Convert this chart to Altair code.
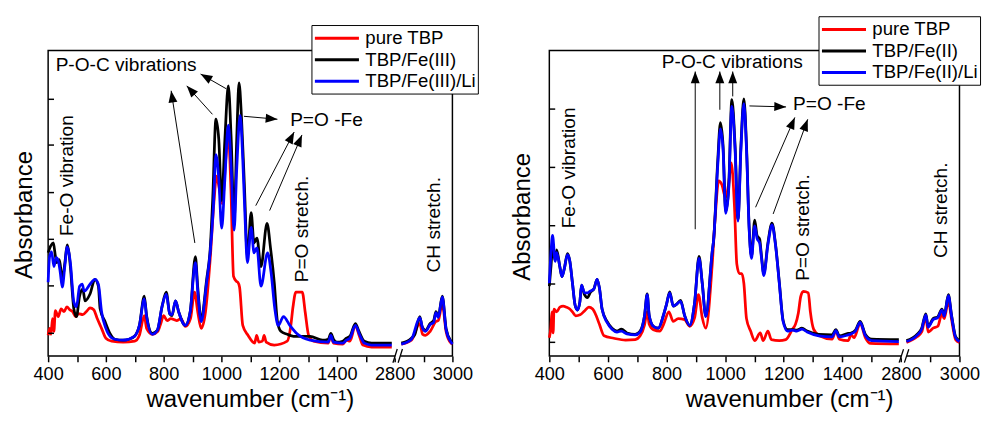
import math
import altair as alt
import pandas as pd

FONT = "Liberation Sans"

# ---------------- left panel: Fe(III) ----------------
L_NAMES = ["pure TBP", "TBP/Fe(III)", "TBP/Fe(III)/Li"]

L_RED_WN = [400, 405, 410, 415, 420, 425, 435, 445, 455, 465, 475, 485, 495, 505, 520, 535, 545, 558, 570, 585,
            600, 620, 660, 700, 716, 733, 741, 761, 780, 790, 800, 812, 825, 845, 860, 875, 893, 907, 918, 930,
            945, 961, 975, 983, 993, 1003, 1015, 1024, 1033, 1042, 1052, 1057, 1063, 1074, 1092, 1115, 1122, 1130,
            1142, 1148, 1155, 1183, 1228, 1240, 1248, 1258, 1280, 1290, 1302, 1319, 1370, 1379, 1388, 1420, 1433,
            1445, 1464, 1478, 1490, 1520, 1590,
            2823, 2858, 2887, 2897, 2907, 2923, 2943, 2951, 2965, 2978, 2995, 3000]
L_RED_A = [0.21, 0.28, 0.22, 0.38, 0.25, 0.46, 0.40, 0.48, 0.45, 0.50, 0.47, 0.45, 0.40, 0.43, 0.42, 0.46, 0.49, 0.47, 0.38, 0.28,
           0.18, 0.15, 0.14, 0.15, 0.21, 0.41, 0.28, 0.22, 0.25, 0.33, 0.41, 0.36, 0.38, 0.36, 0.38, 0.30, 0.38, 0.65, 0.45, 0.28,
           0.45, 0.98, 1.60, 1.83, 1.70, 1.55, 2.00, 2.25, 1.70, 0.81, 0.76, 0.75, 0.70, 0.31, 0.21, 0.13, 0.21, 0.14,
           0.15, 0.21, 0.14, 0.11, 0.15, 0.30, 0.50, 0.65, 0.65, 0.45, 0.21, 0.15, 0.13, 0.21, 0.13, 0.12, 0.16,
           0.15, 0.31, 0.20, 0.11, 0.09, 0.09,
           0.12, 0.16, 0.33, 0.22, 0.21, 0.25, 0.35, 0.36, 0.53, 0.25, 0.13, 0.12]

L_BLACK_WN = [400, 409, 418, 425, 430, 439, 449, 458, 466, 472, 477, 489, 498, 509, 520, 528, 545, 562, 574, 580,
              597, 614, 631, 659, 680, 699, 716, 733, 741, 761, 778, 795, 809, 821, 829, 841, 852, 875, 892, 910,
              918, 930, 949, 961, 970, 981, 991, 1001, 1012, 1024, 1034, 1044, 1053, 1061, 1070, 1080, 1090, 1103,
              1113, 1123, 1137, 1158, 1170, 1183, 1194, 1206, 1228, 1250, 1307, 1350, 1370, 1379, 1388, 1400, 1420,
              1433, 1445, 1464, 1475, 1495, 1520, 1590,
              2823, 2858, 2870, 2887, 2895, 2907, 2923, 2935, 2943, 2951, 2965, 2978, 2995, 3000]
L_BLACK_A = [1.05, 1.12, 1.15, 1.02, 0.95, 0.98, 0.78, 0.95, 1.13, 1.05, 0.91, 0.48, 0.40, 0.61, 0.68, 0.56, 0.63, 0.78, 0.71, 0.48,
             0.35, 0.23, 0.17, 0.16, 0.17, 0.20, 0.31, 0.61, 0.41, 0.23, 0.26, 0.51, 0.65, 0.43, 0.41, 0.56, 0.45, 0.31, 0.45, 1.01,
             0.70, 0.38, 0.78, 1.08, 1.60, 2.41, 2.20, 1.58, 2.20, 2.75, 2.20, 1.38, 2.20, 2.78, 2.40, 1.71, 1.01, 1.46,
             1.15, 1.20, 0.91, 1.35, 1.10, 0.75, 0.35, 0.25, 0.22, 0.20, 0.20, 0.16, 0.17, 0.23, 0.17, 0.14, 0.15,
             0.18, 0.20, 0.33, 0.26, 0.15, 0.13, 0.13,
             0.13, 0.18, 0.22, 0.40, 0.30, 0.26, 0.33, 0.36, 0.45, 0.40, 0.61, 0.28, 0.15, 0.13]

L_BLUE_WN = [400, 405, 412, 420, 428, 435, 442, 449, 458, 466, 472, 477, 489, 498, 509, 518, 525, 545, 562, 574,
             585, 600, 617, 631, 659, 699, 716, 733, 741, 761, 778, 795, 809, 821, 829, 841, 852, 875, 892, 910,
             918, 930, 949, 961, 972, 981, 991, 1001, 1012, 1024, 1034, 1044, 1053, 1065, 1074, 1082, 1090, 1103,
             1113, 1123, 1137, 1160, 1172, 1185, 1197, 1215, 1237, 1260, 1307, 1370, 1379, 1388, 1420, 1433, 1445,
             1464, 1478, 1495, 1520, 1590,
             2823, 2858, 2887, 2897, 2907, 2923, 2935, 2943, 2951, 2965, 2978, 2995, 3000]
L_BLUE_A = [0.75, 1.01, 1.06, 0.91, 1.00, 0.97, 0.85, 0.70, 0.92, 1.11, 1.05, 0.95, 0.55, 0.50, 0.71, 0.73, 0.66, 0.73, 0.78, 0.73,
            0.45, 0.28, 0.19, 0.17, 0.16, 0.20, 0.31, 0.58, 0.40, 0.22, 0.26, 0.51, 0.63, 0.43, 0.42, 0.56, 0.45, 0.31, 0.45, 0.95,
            0.66, 0.35, 0.75, 1.05, 1.50, 2.05, 1.80, 1.30, 1.80, 2.35, 1.90, 1.28, 1.90, 2.45, 2.00, 1.40, 0.95, 1.31,
            1.05, 1.10, 0.71, 1.05, 0.85, 0.48, 0.31, 0.40, 0.31, 0.23, 0.16, 0.14, 0.21, 0.14, 0.13, 0.16, 0.18,
            0.31, 0.22, 0.13, 0.11, 0.11,
            0.12, 0.17, 0.39, 0.28, 0.25, 0.32, 0.34, 0.44, 0.39, 0.60, 0.27, 0.14, 0.12]

# ---------------- right panel: Fe(II) ----------------
R_NAMES = ["pure TBP", "TBP/Fe(II)", "TBP/Fe(II)/Li"]

R_RED_WN = [400, 405, 409, 413, 416, 425, 436, 447, 458, 470, 479, 490, 505, 520, 535, 548, 560, 571, 587, 620,
            660, 693, 710, 725, 734, 741, 755, 778, 790, 808, 823, 840, 862, 879, 896, 909, 922, 934, 956, 967,
            978, 989, 1001, 1012, 1021, 1032, 1040, 1049, 1057, 1064, 1073, 1087, 1101, 1120, 1130, 1146, 1158,
            1185, 1207, 1230, 1240, 1250, 1258, 1267, 1284, 1291, 1302, 1322, 1365, 1378, 1390, 1420, 1430, 1440,
            1461, 1479, 1496, 1593,
            2819, 2855, 2871, 2885, 2893, 2910, 2926, 2940, 2948, 2962, 2973, 2987, 3000]
R_RED_A = [0.19, 0.29, 0.46, 0.24, 0.49, 0.46, 0.51, 0.52, 0.51, 0.49, 0.46, 0.42, 0.43, 0.47, 0.51, 0.49, 0.42, 0.33, 0.21, 0.185,
           0.165, 0.17, 0.21, 0.325, 0.46, 0.33, 0.275, 0.26, 0.33, 0.46, 0.36, 0.39, 0.38, 0.31, 0.40, 0.64, 0.40, 0.29, 0.96, 1.49,
           1.83, 1.79, 1.66, 1.80, 2.02, 1.56, 0.96, 0.86, 0.86, 0.76, 0.39, 0.26, 0.16, 0.24, 0.16, 0.26, 0.17,
           0.16, 0.17, 0.28, 0.33, 0.45, 0.62, 0.675, 0.66, 0.46, 0.28, 0.21, 0.175, 0.26, 0.175, 0.16, 0.22, 0.19,
           0.34, 0.19, 0.13, 0.125,
           0.14, 0.20, 0.25, 0.41, 0.25, 0.29, 0.31, 0.44, 0.39, 0.575, 0.38, 0.17, 0.14]

R_BLACK_WN = [400, 406, 411, 420, 425, 436, 443, 451, 462, 470, 479, 488, 496, 504, 510, 520, 530, 541, 552, 563,
              571, 580, 597, 614, 631, 646, 665, 693, 710, 725, 734, 741, 755, 772, 789, 800, 811, 823, 834, 848,
              862, 879, 896, 911, 922, 934, 956, 961, 975, 984, 993, 1002, 1012, 1023, 1034, 1044, 1054, 1064, 1073,
              1082, 1090, 1101, 1109, 1118, 1124, 1132, 1146, 1160, 1172, 1185, 1198, 1213, 1230, 1245, 1262, 1280,
              1320, 1365, 1378, 1390, 1420, 1430, 1445, 1461, 1479, 1500, 1593,
              2819, 2855, 2871, 2885, 2893, 2910, 2926, 2940, 2948, 2962, 2973, 2987, 3000]
R_BLACK_A = [0.73, 0.95, 1.13, 1.00, 1.11, 0.93, 0.83, 0.91, 1.07, 0.99, 0.76, 0.53, 0.48, 0.56, 0.74, 0.64, 0.61, 0.67, 0.70, 0.80,
             0.71, 0.49, 0.36, 0.29, 0.26, 0.28, 0.24, 0.225, 0.26, 0.42, 0.65, 0.42, 0.31, 0.29, 0.42, 0.54, 0.67, 0.52, 0.54, 0.58,
             0.42, 0.32, 0.56, 1.04, 0.76, 0.42, 1.09, 1.22, 2.05, 2.44, 2.20, 1.51, 1.75, 2.68, 2.20, 1.43, 2.20, 2.69, 2.20,
             1.35, 1.04, 1.42, 1.26, 1.22, 1.05, 0.86, 1.18, 1.39, 1.17, 0.77, 0.37, 0.275, 0.275, 0.27, 0.29, 0.26,
             0.225, 0.22, 0.275, 0.21, 0.235, 0.24, 0.27, 0.36, 0.225, 0.175, 0.17,
             0.16, 0.225, 0.29, 0.44, 0.31, 0.39, 0.41, 0.49, 0.425, 0.64, 0.425, 0.20, 0.16]

R_BLUE_WN = R_BLACK_WN
R_BLUE_A = [0.76, 1.10, 1.26, 0.99, 1.08, 0.93, 0.83, 0.91, 1.06, 0.99, 0.76, 0.53, 0.48, 0.56, 0.74, 0.66, 0.66, 0.68, 0.70, 0.80,
            0.71, 0.49, 0.35, 0.28, 0.25, 0.26, 0.23, 0.22, 0.25, 0.42, 0.64, 0.42, 0.31, 0.29, 0.42, 0.54, 0.66, 0.52, 0.54, 0.57,
            0.42, 0.32, 0.56, 1.02, 0.76, 0.41, 1.09, 1.22, 2.00, 2.375, 2.16, 1.49, 1.73, 2.61, 2.16, 1.41, 2.16, 2.64, 2.16,
            1.33, 1.02, 1.36, 1.23, 1.18, 1.03, 0.84, 1.16, 1.37, 1.16, 0.76, 0.36, 0.26, 0.27, 0.26, 0.28, 0.25,
            0.21, 0.20, 0.265, 0.20, 0.22, 0.23, 0.26, 0.35, 0.21, 0.16, 0.15,
            0.15, 0.215, 0.28, 0.43, 0.30, 0.38, 0.40, 0.48, 0.415, 0.63, 0.415, 0.19, 0.15]

# ---------------- annotations ----------------
L_TEXT_H = ["P-O-C vibrations", "P=O -Fe"]
L_TEXT_H_X = [426, 1238]
L_TEXT_H_Y = [2.965, 2.405]
L_TEXT_V = ["Fe-O vibration", "P=O stretch.", "CH stretch."]
L_TEXT_V_X = [467, 1281, 2938]
L_TEXT_V_Y = [1.22, 0.75, 0.85]
L_ARROW_X1 = [908, 969, 1017, 1078, 1119, 1167]
L_ARROW_Y1 = [1.15, 2.46, 2.72, 2.44, 1.53, 1.48]
L_ARROW_X2 = [826, 880, 928, 1194, 1252, 1279]
L_ARROW_Y2 = [2.70, 2.75, 2.87, 2.41, 2.28, 2.25]
L_YTICKS = [0.23, 0.713, 1.187, 1.663, 2.147, 2.613]

R_TEXT_H = ["P-O-C vibrations", "P=O -Fe"]
R_TEXT_H_X = [784, 1232]
R_TEXT_H_Y = [3.07, 2.63]
R_TEXT_V = ["Fe-O vibration", "P=O stretch.", "CH stretch."]
R_TEXT_V_X = [466, 1267, 2936]
R_TEXT_V_Y = [1.335, 0.785, 1.025]
R_ARROW_X1 = [898, 982, 1026, 1083, 1104, 1164]
R_ARROW_Y1 = [1.325, 2.575, 2.715, 2.615, 1.555, 1.485]
R_ARROW_X2 = [898, 982, 1026, 1208, 1238, 1282]
R_ARROW_Y2 = [2.975, 2.975, 2.975, 2.605, 2.495, 2.475]
R_YTICKS = [0.142, 0.752, 1.362, 1.972, 2.582]

# broken axis: 2800-3000 drawn right after 1600 on the axis
BREAK_SHIFT = 1200
X_TICKS = [400, 500, 600, 700, 800, 900, 1000, 1100, 1200, 1300, 1400, 1500, 1600, 1700, 1800]
BREAK_X1 = [1594, 1612]
BREAK_X2 = [1609, 1627]
BREAK_Y1 = [-0.07, -0.07]
BREAK_Y2 = [0.07, 0.07]
GAP_X = [1602]
GAP_X2 = [1620]

COLORS = ["#ff0000", "#000000", "#0000ff"]
ARROW_PATH = "M0,0L-0.38,1L0.38,1Z"
LEGEND_LINE = "M-2.25,0L2.25,0"
LABEL_SIZE = 18.5
LEGEND_SIZE = 19
TITLE_SIZE = 24.5


def axis_x(wn):
    return wn - BREAK_SHIFT if wn > 2000 else wn


def curve_frame(name, wns, vals):
    return pd.DataFrame({
        "series": name,
        "xp": [axis_x(w) for w in wns],
        "seg": [2 if w > 2000 else 1 for w in wns],
        "a": vals,
    })


def panel(names, curves, texts_h, texts_v, arrows, yticks, width, height, ymax,
          legend_x, legend_y, xtitle_x, xtitle_y, ytitle_x, ytitle_y, top_extent):
    xscale = alt.Scale(domain=[400, 1800], nice=False, zero=False)
    yscale = alt.Scale(domain=[0, ymax], nice=False, zero=False)
    cscale = alt.Scale(domain=names, range=COLORS)
    legend = alt.Legend(orient="none", legendX=legend_x, legendY=legend_y, title=None,
                        direction="vertical", symbolType=LEGEND_LINE, symbolSize=400,
                        symbolOffset=12.5, symbolStrokeWidth=3, labelFontSize=LEGEND_SIZE,
                        labelFont=FONT, labelColor="black", labelOffset=17.5, rowPadding=0,
                        padding=2, strokeColor="black", fillColor="white")
    xaxis = alt.Axis(values=X_TICKS,
                     labelExpr="datum.value >= 1600 ? (datum.value == 1700 ? '' : toString(datum.value + 1200)) : (datum.value % 200 == 0 ? toString(datum.value) : '')",
                     labelFontSize=LABEL_SIZE, labelFont=FONT, labelColor="black", labelPadding=3,
                     labelFlush=False, labelOverlap=False, tickSize=6, tickWidth=1.5,
                     tickColor="black", domain=False, grid=False,
                     title="wavenumber (cm⁻¹)", titleFont=FONT, titleFontSize=TITLE_SIZE,
                     titleFontWeight="normal", titleColor="black", titleX=xtitle_x,
                     titleY=xtitle_y, titleAlign="center", titleBaseline="alphabetic")
    yaxis = alt.Axis(labels=False, ticks=False, domain=False, grid=False,
                     title="Absorbance", titleFont=FONT, titleFontSize=TITLE_SIZE,
                     titleFontWeight="normal", titleColor="black", titleAngle=270,
                     titleX=ytitle_x, titleY=ytitle_y, titleAlign="center",
                     titleBaseline="alphabetic")

    def X(field):
        return alt.X(field, scale=xscale, axis=xaxis)

    def Y(field):
        return alt.Y(field, scale=yscale, axis=yaxis)

    layers = []
    for name, wns, vals in curves:
        df = curve_frame(name, wns, vals)
        layers.append(
            alt.Chart(df).mark_line(strokeWidth=2.8, interpolate="monotone").encode(
                x=X("xp:Q"), y=Y("a:Q"),
                color=alt.Color("series:N", scale=cscale, legend=legend),
                detail="seg:N",
            )
        )
    th = pd.DataFrame({"label": texts_h[0], "x": [axis_x(v) for v in texts_h[1]], "y": texts_h[2]})
    tv = pd.DataFrame({"label": texts_v[0], "x": [axis_x(v) for v in texts_v[1]], "y": texts_v[2]})
    layers.append(alt.Chart(th).mark_text(align="left", baseline="middle", fontSize=19.5,
                                          font=FONT, color="black").encode(
        x=X("x:Q"), y=Y("y:Q"), text="label:N"))
    layers.append(alt.Chart(tv).mark_text(align="left", baseline="middle", fontSize=19.5,
                                          font=FONT, color="black", angle=270).encode(
        x=X("x:Q"), y=Y("y:Q"), text="label:N"))

    x1, y1, x2, y2 = arrows
    pxx = width / 1400.0
    pxy = height / ymax
    angs = [math.degrees(math.atan2((b - a) * pxx, (d - c) * pxy)) % 360
            for a, c, b, d in zip(x1, y1, x2, y2)]
    ar = pd.DataFrame({"x1": x1, "y1": y1, "x2": x2, "y2": y2, "ang": angs})
    layers.append(alt.Chart(ar).mark_rule(strokeWidth=1, color="black").encode(
        x=X("x1:Q"), y=Y("y1:Q"), x2="x2:Q", y2="y2:Q"))
    layers.append(alt.Chart(ar).mark_point(shape=ARROW_PATH, filled=True, size=576,
                                           color="black", opacity=1, strokeWidth=0).encode(
        x=X("x2:Q"), y=Y("y2:Q"), angle=alt.Angle("ang:Q", scale=None)))

    tk = pd.DataFrame({"t": yticks})
    layers.append(alt.Chart(tk).mark_rule(strokeWidth=1.5, color="black").encode(
        y=Y("t:Q"), x=alt.value(0), x2=alt.value(6)))

    gap = pd.DataFrame({"x": GAP_X, "x2": GAP_X2, "y": [0]})
    layers.append(alt.Chart(gap).mark_rule(strokeWidth=5, color="white").encode(
        x=X("x:Q"), x2="x2:Q", y=Y("y:Q")))
    br = pd.DataFrame({"x1": BREAK_X1, "x2": BREAK_X2, "y1": BREAK_Y1, "y2": BREAK_Y2})
    layers.append(alt.Chart(br).mark_rule(strokeWidth=1.3, color="black").encode(
        x=X("x1:Q"), x2="x2:Q", y=Y("y1:Q"), y2="y2:Q"))

    # invisible spacer so that both panels reach equally far above the plot area
    sp = pd.DataFrame({"k": [0]})
    layers.append(alt.Chart(sp).mark_rule(strokeWidth=1, color="white", opacity=0).encode(
        x=alt.value(0), x2=alt.value(2), y=alt.value(top_extent)))

    return alt.layer(*layers).properties(width=width, height=height)


left = panel(
    L_NAMES,
    [(L_NAMES[0], L_RED_WN, L_RED_A), (L_NAMES[1], L_BLACK_WN, L_BLACK_A), (L_NAMES[2], L_BLUE_WN, L_BLUE_A)],
    (L_TEXT_H, L_TEXT_H_X, L_TEXT_H_Y), (L_TEXT_V, L_TEXT_V_X, L_TEXT_V_Y),
    (L_ARROW_X1, L_ARROW_Y1, L_ARROW_X2, L_ARROW_Y2), L_YTICKS,
    width=413, height=312, ymax=3.11, legend_x=269, legend_y=-26,
    xtitle_x=206, xtitle_y=52, ytitle_x=-17, ytitle_y=167.5, top_extent=-35)

right = panel(
    R_NAMES,
    [(R_NAMES[0], R_RED_WN, R_RED_A), (R_NAMES[1], R_BLACK_WN, R_BLACK_A), (R_NAMES[2], R_BLUE_WN, R_BLUE_A)],
    (R_TEXT_H, R_TEXT_H_X, R_TEXT_H_Y), (R_TEXT_V, R_TEXT_V_X, R_TEXT_V_Y),
    (R_ARROW_X1, R_ARROW_Y1, R_ARROW_X2, R_ARROW_Y2), R_YTICKS,
    width=419, height=312, ymax=3.195, legend_x=275, legend_y=-35,
    xtitle_x=245, xtitle_y=52, ytitle_x=-20.5, ytitle_y=169.5, top_extent=-35)

chart = alt.hconcat(left, right, spacing=29).resolve_scale(
    color="independent", x="independent", y="independent"
).resolve_legend(color="independent").properties(
    padding={"left": 3, "top": 2, "right": 0, "bottom": 0}
).configure(font=FONT).configure_view(
    stroke="black", strokeWidth=1.5
).configure_legend(
    labelFontSize=LEGEND_SIZE, labelFont=FONT
).configure_axis(
    labelFontSize=LABEL_SIZE, labelFont=FONT, titleFontSize=TITLE_SIZE, titleFont=FONT
)

chart.save("out.html", embed_options={"renderer": "svg", "actions": False})
